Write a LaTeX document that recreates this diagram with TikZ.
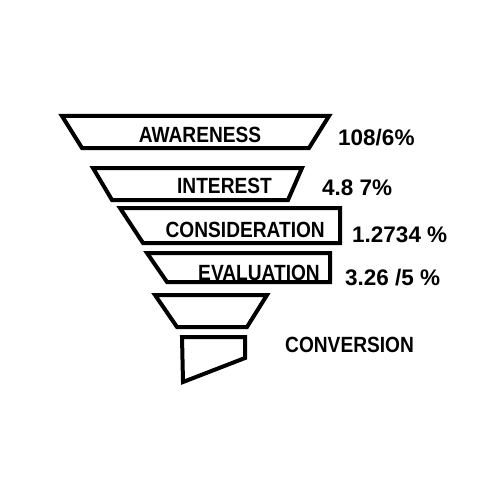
\documentclass[tikz,border=0pt]{standalone}
\usepackage{fontspec}
\setmainfont{Liberation Sans}[BoldFont={* Bold}]
\newfontfamily\labelfont{Liberation Sans Bold}[FakeStretch=0.87]
\tikzset{
  funnel/.style={line width=4pt},
  stage/.style={font=\labelfont\fontsize{22}{22}\selectfont,inner sep=0pt},
  rate/.style={font=\bfseries\fontsize{22.5}{22.5}\selectfont,inner sep=0pt,anchor=base west}
}
\begin{document}
\begin{tikzpicture}[x=1pt,y=-1pt]
	\useasboundingbox (0,0) rectangle (500,500);
	\draw[funnel] (62,116)--(329,116)--(309,148)--(82,148)--cycle;
	\draw[funnel] (93,168)--(302,168)--(288,200)--(112,200)--cycle;
	\draw[funnel] (120,208)--(340,208)--(340,243)--(143,243)--cycle;
	\draw[funnel] (147,253)--(330,253)--(330,282)--(167,282)--cycle;
	\draw[funnel] (155,295)--(267,295)--(247,327)--(177,327)--cycle;
	\draw[funnel] (182,337)--(245,337)--(245,358)--(183,382)--cycle;
	\node[stage,anchor=base] (awareness) at (200,142) {AWARENESS};
	\node[stage,anchor=base east] (interest) at (272,193) {INTEREST};
	\node[stage,anchor=base east] (consideration) at (325,237) {CONSIDERATION};
	\node[stage,anchor=base east] (evaluation) at (320,280) {EVALUATION};
	\node[stage,anchor=base west] (conversion) at (285,352) {CONVERSION};
	\node[rate] (awarenessrate) at (338,145) {108/6\%};
	\node[rate] (interestrate) at (322,195) {4.8 7\%};
	\node[rate] (considerationrate) at (352,242) {1.2734 \%};
	\node[rate] (evaluationrate) at (345,285) {3.26 /5 \%};
\end{tikzpicture}
\end{document}
